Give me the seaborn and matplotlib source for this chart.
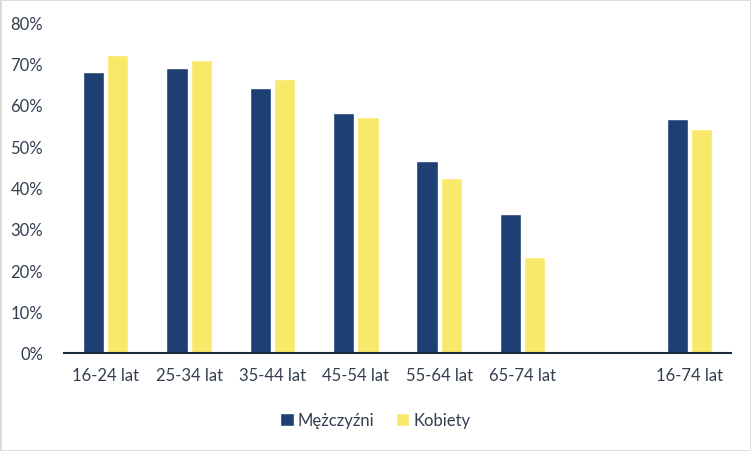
import matplotlib
matplotlib.use("Agg")
import matplotlib.pyplot as plt
import seaborn as sns
import pandas as pd
from matplotlib.ticker import PercentFormatter
from matplotlib.patches import Rectangle

categories = ["16-24 lat", "25-34 lat", "35-44 lat", "45-54 lat", "55-64 lat", "65-74 lat", "16-74 lat"]
order = ["16-24 lat", "25-34 lat", "35-44 lat", "45-54 lat", "55-64 lat", "65-74 lat", " ", "16-74 lat"]
men = [68.0, 68.9, 64.1, 58.0, 46.4, 33.6, 56.6]
women = [72.1, 70.9, 66.2, 57.1, 42.3, 23.3, 54.2]
series = ["Mężczyźni", "Kobiety"]

df = pd.DataFrame({
    "kat": categories * 2,
    "val": men + women,
    "płeć": [series[0]] * len(categories) + [series[1]] * len(categories),
})

sns.set_theme(style="white")
plt.rcParams["font.family"] = ["Lato", "DejaVu Sans"]
txt = "#333F50"

fig = plt.figure(figsize=(7.51, 4.52), dpi=100)
ax = fig.add_axes([64 / 751, 1 - 354 / 452, (731 - 64) / 751, (354 - 23) / 452])

sns.barplot(data=df, x="kat", y="val", hue="płeć", order=order, hue_order=series,
            palette=["#1E3F73", "#F9E96B"], width=0.58, gap=0.12, ax=ax,
            saturation=1, errorbar=None)

ax.set_ylim(0, 80)
ax.set_yticks(range(0, 81, 10))
ax.yaxis.set_major_formatter(PercentFormatter(decimals=0))
ax.set_xlim(-0.5, len(order) - 0.5)
ax.set_xlabel("")
ax.set_ylabel("")
for s in ["top", "right", "left"]:
    ax.spines[s].set_visible(False)
ax.spines["bottom"].set_color("#1B2A3A")
ax.spines["bottom"].set_linewidth(1.5)
ax.tick_params(axis="both", length=0, labelsize=12, colors=txt)
ax.tick_params(axis="y", pad=15)
ax.tick_params(axis="x", pad=10)

leg = ax.legend(loc="center", bbox_to_anchor=(0.5, 1 - 421 / 452),
                bbox_transform=fig.transFigure, ncol=2, frameon=False,
                fontsize=12, handlelength=0.8, handleheight=0.8, handletextpad=0.25,
                columnspacing=1.3)
for t in leg.get_texts():
    t.set_color(txt)

fig.patches.append(Rectangle((0, 0), 1, 1, transform=fig.transFigure, fill=False,
                             edgecolor="#D9D9D9", linewidth=2))

fig.savefig("out.png", dpi=100)
